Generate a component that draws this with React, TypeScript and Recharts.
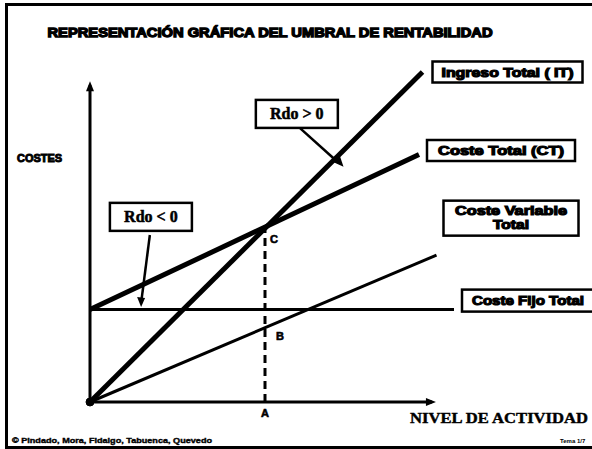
import React from 'react';
import { LineChart, Line, XAxis, YAxis, ReferenceLine, ReferenceDot } from 'recharts';

// nivel de actividad (x) / costes-ingresos (y)
const ingresoTotal = [{ x: 0, y: 0 }, { x: 95, y: 100 }];
const costeTotal = [{ x: 0, y: 28 }, { x: 94, y: 75 }];
const costeVariable = [{ x: 0, y: 0 }, { x: 99, y: 44.5 }];
const costeFijo = [{ x: 0, y: 28 }, { x: 104, y: 28 }];

const umbral = { x: 50, yC: 52.5, yB: 22.5 };
const ejeY = [{ x: 0, y: 0 }, { x: 0, y: 96 }];
const ejeX = [{ x: 0, y: 0 }, { x: 97.7, y: 0 }];

// callout boxes: box centre + pointer
const rdoPositivo = { texto: 'Rdo > 0', centro: { x: 59.1, y: 87.3 }, desde: { x: 60, y: 83 }, hasta: { x: 71, y: 72.5 } };
const rdoNegativo = { texto: 'Rdo < 0', centro: { x: 17.4, y: 56.1 }, desde: { x: 17.1, y: 50.6 }, hasta: { x: 14.6, y: 30 } };

const heavy = 'Liberation Sans, Arial, sans-serif';
const serif = 'Liberation Serif, Times New Roman, serif';

const labelBox = (lines: string[], dx: number, dy: number, w: number, h: number, tl: number[], align: 'middle' | 'start' = 'middle') => (p: any) => {
  const x0 = p.cx + dx;
  const y0 = p.cy + dy - h / 2;
  return (
    <g>
      <rect x={x0} y={y0} width={w} height={h} fill="#fff" stroke="#000" strokeWidth={2.5} />
      {lines.map((t, i) => (
        <text
          key={t}
          x={align === 'middle' ? x0 + w / 2 : x0 + 10}
          y={y0 + (lines.length === 1 ? h / 2 + 4.5 : 14 + i * 14)}
          textAnchor={align}
          fontFamily={heavy}
          fontWeight="bold"
          fontSize={12}
          stroke="#000"
          strokeWidth={1.1}
          textLength={tl[i]}
          lengthAdjust="spacingAndGlyphs"
        >
          {t}
        </text>
      ))}
    </g>
  );
};

const rdoBox = (texto: string) => (p: any) => (
  <g>
    <rect x={p.cx - 41} y={p.cy - 14} width={82} height={28} fill="#fff" stroke="#000" strokeWidth={2.5} />
    <text x={p.cx} y={p.cy + 5.5} textAnchor="middle" fontFamily={serif} fontWeight="bold" fontSize={16}
      stroke="#000" strokeWidth={0.5}>
      {texto}
    </text>
  </g>
);

const letra = (t: string, dx: number, dy: number) => (p: any) => (
  <text x={p.cx + dx} y={p.cy + dy} textAnchor="middle" fontFamily={heavy} fontWeight="bold" fontSize={11}
    stroke="#000" strokeWidth={0.6}>
    {t}
  </text>
);

export default function App() {
  return (
    <div style={{ position: 'absolute', left: 0, top: 0, width: 592, height: 449, background: '#fff', overflow: 'hidden' }}>
      <div
        style={{
          position: 'absolute', left: 5, top: 3, width: 610, height: 446,
          border: '3px solid #000', boxSizing: 'border-box',
        }}
      />
      <LineChart
        width={592}
        height={449}
        margin={{ top: 72, right: 82, bottom: 47, left: 90 }}
        style={{ position: 'absolute', left: 0, top: 0 }}
      >
        <XAxis type="number" dataKey="x" domain={[0, 120]} hide />
        <YAxis type="number" dataKey="y" domain={[0, 100]} hide />

        <ReferenceLine segment={ejeY} stroke="#000" strokeWidth={3} ifOverflow="visible" />
        <ReferenceLine segment={ejeX} stroke="#000" strokeWidth={3} ifOverflow="visible" />
        <ReferenceDot x={ejeY[1].x} y={ejeY[1].y} ifOverflow="visible"
          shape={(p: any) => <polygon points={`${p.cx - 4},${p.cy + 6} ${p.cx + 4},${p.cy + 6} ${p.cx},${p.cy - 4}`} fill="#000" />} />
        <ReferenceDot x={ejeX[1].x} y={ejeX[1].y} ifOverflow="visible"
          shape={(p: any) => <polygon points={`${p.cx - 6},${p.cy - 4} ${p.cx - 6},${p.cy + 4} ${p.cx + 4},${p.cy}`} fill="#000" />} />
        <ReferenceDot x={0} y={0} r={4} fill="#000" stroke="#000" ifOverflow="visible" />

        <ReferenceLine
          segment={[{ x: umbral.x, y: 0 }, { x: umbral.x, y: umbral.yC }]}
          stroke="#000" strokeWidth={3} strokeDasharray="8 5" ifOverflow="visible"
        />

        <Line data={costeFijo} dataKey="y" stroke="#000" strokeWidth={3} dot={false} activeDot={false} isAnimationActive={false} />
        <Line data={costeVariable} dataKey="y" stroke="#000" strokeWidth={3} dot={false} activeDot={false} isAnimationActive={false} />
        <Line data={costeTotal} dataKey="y" stroke="#000" strokeWidth={5} dot={false} activeDot={false} isAnimationActive={false} />
        <Line data={ingresoTotal} dataKey="y" stroke="#000" strokeWidth={5} dot={false} activeDot={false} isAnimationActive={false} />

        <ReferenceDot x={umbral.x} y={0} ifOverflow="visible" shape={letra('A', 0, 15)} />
        <ReferenceDot x={umbral.x} y={umbral.yC} ifOverflow="visible" shape={letra('C', 9, 14)} />
        <ReferenceDot x={umbral.x} y={umbral.yB} ifOverflow="visible" shape={letra('B', 15, 12)} />

        {/* pointers */}
        <ReferenceLine segment={[rdoPositivo.desde, rdoPositivo.hasta]} stroke="#000" strokeWidth={2.5} ifOverflow="visible" />
        <ReferenceDot x={rdoPositivo.hasta.x} y={rdoPositivo.hasta.y} ifOverflow="visible"
          shape={(p: any) => <polygon points={`${p.cx + 5},${p.cy + 4} ${p.cx - 6},${p.cy - 1} ${p.cx + 1},${p.cy - 8}`} fill="#000" />} />
        <ReferenceLine segment={[rdoNegativo.desde, rdoNegativo.hasta]} stroke="#000" strokeWidth={2.5} ifOverflow="visible" />
        <ReferenceDot x={rdoNegativo.hasta.x} y={rdoNegativo.hasta.y} ifOverflow="visible"
          shape={(p: any) => <polygon points={`${p.cx - 4},${p.cy - 6} ${p.cx + 4},${p.cy - 5} ${p.cx},${p.cy + 4}`} fill="#000" />} />
        <ReferenceDot x={rdoPositivo.centro.x} y={rdoPositivo.centro.y} ifOverflow="visible" shape={rdoBox(rdoPositivo.texto)} />
        <ReferenceDot x={rdoNegativo.centro.x} y={rdoNegativo.centro.y} ifOverflow="visible" shape={rdoBox(rdoNegativo.texto)} />

        {/* series labels anchored at the line ends */}
        <ReferenceDot x={ingresoTotal[1].x} y={ingresoTotal[1].y} ifOverflow="visible"
          shape={labelBox(['Ingreso Total ( IT)'], 10, 0, 150, 21, [132])} />
        <ReferenceDot x={costeTotal[1].x} y={costeTotal[1].y} ifOverflow="visible"
          shape={labelBox(['Coste Total (CT)'], 8, -4, 148, 21, [126])} />
        <ReferenceDot x={costeVariable[1].x} y={costeVariable[1].y} ifOverflow="visible"
          shape={labelBox(['Coste Variable', 'Total'], 7, -37, 135, 35, [112, 36])} />
        <ReferenceDot x={costeFijo[1].x} y={costeFijo[1].y} ifOverflow="visible"
          shape={labelBox(['Coste Fijo Total'], 8, -9, 140, 22, [112], 'start')} />
      </LineChart>

      <svg width={592} height={449} style={{ position: 'absolute', left: 0, top: 0, pointerEvents: 'none' }}>
        <text x={270} y={37} textAnchor="middle" fontFamily={heavy} fontWeight="bold" fontSize={13}
          stroke="#000" strokeWidth={1.3} textLength={445} lengthAdjust="spacingAndGlyphs">
          REPRESENTACIÓN GRÁFICA DEL UMBRAL DE RENTABILIDAD
        </text>
        <text x={17} y={162} fontFamily={heavy} fontWeight="bold" fontSize={10}
          stroke="#000" strokeWidth={0.9} textLength={45} lengthAdjust="spacingAndGlyphs">
          COSTES
        </text>
        <text x={410} y={423} fontFamily={serif} fontWeight="bold" fontSize={14}
          stroke="#000" strokeWidth={0.4} textLength={178} lengthAdjust="spacingAndGlyphs">
          NIVEL DE ACTIVIDAD
        </text>
        <text x={12} y={443} fontFamily={heavy} fontWeight="bold" fontSize={8}
          stroke="#000" strokeWidth={0.4} textLength={200} lengthAdjust="spacingAndGlyphs">
          © Pindado, Mora, Fidalgo, Tabuenca, Quevedo
        </text>
        <text x={560} y={443} fontFamily={heavy} fontWeight="bold" fontSize={6}>
          Tema 1/7
        </text>
      </svg>
    </div>
  );
}
